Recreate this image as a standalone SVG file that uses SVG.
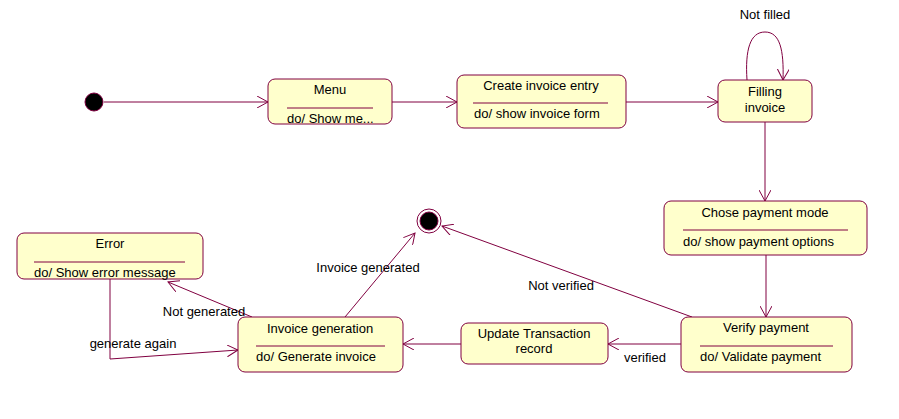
<svg xmlns="http://www.w3.org/2000/svg" width="899" height="419" viewBox="0 0 899 419">
<style>
.st{fill:#ffffcc;stroke:#800040;stroke-width:1}
.sep{stroke:#800040;stroke-width:1}
.ln{fill:none;stroke:#800040;stroke-width:1}
text{font-family:"Liberation Sans",Arial,sans-serif;font-size:13px;fill:#000}
.c{text-anchor:middle}
</style>
<defs>
<marker id="ar" markerUnits="userSpaceOnUse" markerWidth="14" markerHeight="12" refX="11" refY="6" orient="auto" viewBox="0 0 14 12">
<path d="M0,0 L11,6 L0,12" fill="none" stroke="#800040" stroke-width="1"/>
</marker>
</defs>
<rect width="899" height="419" fill="#fff"/>
<g id="connectors">
<line class="ln" x1="104" y1="102" x2="268" y2="102" marker-end="url(#ar)"/>
<line class="ln" x1="392" y1="102" x2="457" y2="102" marker-end="url(#ar)"/>
<line class="ln" x1="626" y1="102" x2="718" y2="102" marker-end="url(#ar)"/>
<path class="ln" d="M747,80 C745,50 750,32 765,32 C780,32 784,50 783,80" marker-end="url(#ar)"/>
<line class="ln" x1="765" y1="122" x2="765" y2="201" marker-end="url(#ar)"/>
<line class="ln" x1="766" y1="255" x2="766" y2="317" marker-end="url(#ar)"/>
<line class="ln" x1="681" y1="344" x2="608" y2="344" marker-end="url(#ar)"/>
<line class="ln" x1="461" y1="344" x2="403" y2="344" marker-end="url(#ar)"/>
<line class="ln" x1="692" y1="317" x2="442" y2="226" marker-end="url(#ar)"/>
<line class="ln" x1="345" y1="317" x2="415" y2="233" marker-end="url(#ar)"/>
<line class="ln" x1="252" y1="317" x2="168" y2="282" marker-end="url(#ar)"/>
<polyline class="ln" points="110,279 110,359 238,350" marker-end="url(#ar)"/>
<text x="765" y="19" class="c">Not filled</text>
<text x="561" y="290" class="c">Not verified</text>
<text x="645" y="362" class="c">verified</text>
<text x="368" y="272" class="c">Invoice generated</text>
<text x="204" y="316" class="c">Not generated</text>
<text x="133" y="348" class="c">generate again</text>
</g>
<g id="initial">
<circle cx="94" cy="102" r="9" fill="#000" stroke="#800040"/>
</g>
<g id="final">
<circle cx="429" cy="221" r="12" fill="#fff" stroke="#800040"/>
<circle cx="429" cy="221" r="9" fill="#000" stroke="#800040"/>
</g>
<g id="menu">
<rect class="st" x="268" y="79" width="124" height="45" rx="7"/>
<text x="330" y="94" class="c">Menu</text>
<line class="sep" x1="287" y1="108" x2="373" y2="108"/>
<text x="287" y="123">do/ Show me...</text>
</g>
<g id="create">
<rect class="st" x="457" y="75" width="169" height="53" rx="7"/>
<text x="541" y="90" class="c">Create invoice entry</text>
<line class="sep" x1="473" y1="103" x2="608" y2="103"/>
<text x="474" y="118">do/ show invoice form</text>
</g>
<g id="filling">
<rect class="st" x="718" y="80" width="94" height="42" rx="7"/>
<text x="765" y="96" class="c">Filling</text>
<text x="765" y="112" class="c">invoice</text>
</g>
<g id="chose">
<rect class="st" x="664" y="201" width="203" height="54" rx="7"/>
<text x="765" y="217" class="c">Chose payment mode</text>
<line class="sep" x1="683" y1="230" x2="848" y2="230"/>
<text x="683" y="246">do/ show payment options</text>
</g>
<g id="verify">
<rect class="st" x="681" y="317" width="171" height="55" rx="7"/>
<text x="766" y="332" class="c">Verify payment</text>
<line class="sep" x1="700" y1="346" x2="833" y2="346"/>
<text x="700" y="361">do/ Validate payment</text>
</g>
<g id="update">
<rect class="st" x="461" y="323" width="147" height="41" rx="7"/>
<text x="534" y="338" class="c">Update Transaction</text>
<text x="534" y="353" class="c">record</text>
</g>
<g id="generation">
<rect class="st" x="238" y="317" width="165" height="55" rx="7"/>
<text x="320" y="333" class="c">Invoice generation</text>
<line class="sep" x1="256" y1="346" x2="385" y2="346"/>
<text x="256" y="361">do/ Generate invoice</text>
</g>
<g id="error">
<rect class="st" x="17" y="233" width="186" height="46" rx="7"/>
<text x="110" y="248" class="c">Error</text>
<line class="sep" x1="34" y1="262" x2="185" y2="262"/>
<text x="34" y="277">do/ Show error message</text>
</g>
</svg>
